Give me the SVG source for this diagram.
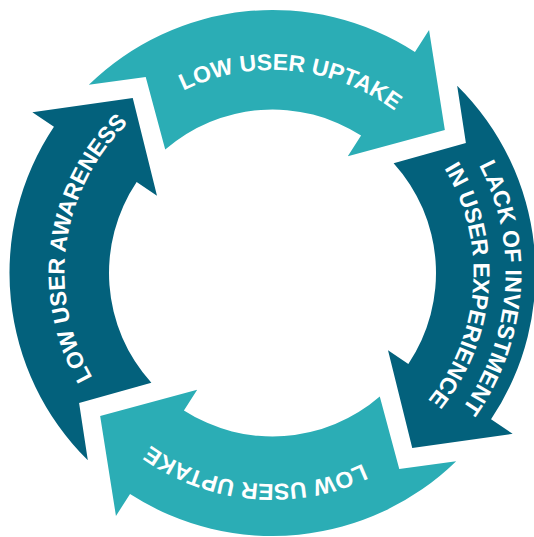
<svg xmlns="http://www.w3.org/2000/svg" xmlns:xlink="http://www.w3.org/1999/xlink" width="534" height="537" viewBox="0 0 534 537">
  <style>
    .teal { fill: #2badb5; }
    .dark { fill: #03617c; }
    .lbl { fill: #ffffff; font-family: "Liberation Sans", Arial, Helvetica, sans-serif; font-weight: bold; font-size: 23px; }
  </style>
  <defs>
    <path id="tealShape" d="M88.82,84.77 A263,263 0 0 1 414.97,51.93 L429.05,30.08 L444.85,129.92 L347.80,156.16 L361.07,135.57 A163.5,163.5 0 0 0 165.23,149.60 L145.72,77.03 Z"/>
    <path id="darkShape" d="M85.24,88.33 A263,263 0 0 1 418.81,54.45 L433.27,32.85 L447.56,133.25 L349.83,157.49 L363.45,137.14 A163.5,163.5 0 0 0 162.67,151.88 L142.56,79.60 Z"/>
    <path id="arcTop" d="M76.88,218.75 A203,203 0 0 1 474.87,257.07"/>
    <path id="arcBottom" d="M68.69,218.39 A211,211 0 0 1 482.70,254.61"/>
    <path id="arcLeft" d="M74.68,208.72 A208,208 0 0 1 480.37,265.74"/>
    <path id="arcRightOuter" d="M46.42,216.63 A233,233 0 0 1 504.22,248.64"/>
    <path id="arcRightInner" d="M77.47,224.37 A201,201 0 0 1 472.40,251.99"/>
  </defs>

  <g id="node-top-low-user-uptake">
    <use xlink:href="#tealShape" href="#tealShape" class="teal"/>
    <text class="lbl"><textPath xlink:href="#arcTop" href="#arcTop" startOffset="50%" text-anchor="middle">LOW USER UPTAKE</textPath></text>
  </g>

  <g id="node-right-lack-of-investment" transform="rotate(90 272.5 273)">
    <use xlink:href="#darkShape" href="#darkShape" class="dark"/>
    <text class="lbl"><textPath xlink:href="#arcRightOuter" href="#arcRightOuter" startOffset="50%" text-anchor="middle">LACK OF INVESTMENT</textPath></text>
    <text class="lbl"><textPath xlink:href="#arcRightInner" href="#arcRightInner" startOffset="50%" text-anchor="middle">IN USER EXPERIENCE</textPath></text>
  </g>

  <g id="node-bottom-low-user-uptake" transform="rotate(180 272.5 273)">
    <use xlink:href="#tealShape" href="#tealShape" class="teal"/>
    <text class="lbl"><textPath xlink:href="#arcBottom" href="#arcBottom" startOffset="50%" text-anchor="middle">LOW USER UPTAKE</textPath></text>
  </g>

  <g id="node-left-low-user-awareness" transform="rotate(-90 272.5 273)">
    <use xlink:href="#darkShape" href="#darkShape" class="dark"/>
    <text class="lbl"><textPath xlink:href="#arcLeft" href="#arcLeft" startOffset="50%" text-anchor="middle">LOW USER AWARENESS</textPath></text>
  </g>
</svg>
